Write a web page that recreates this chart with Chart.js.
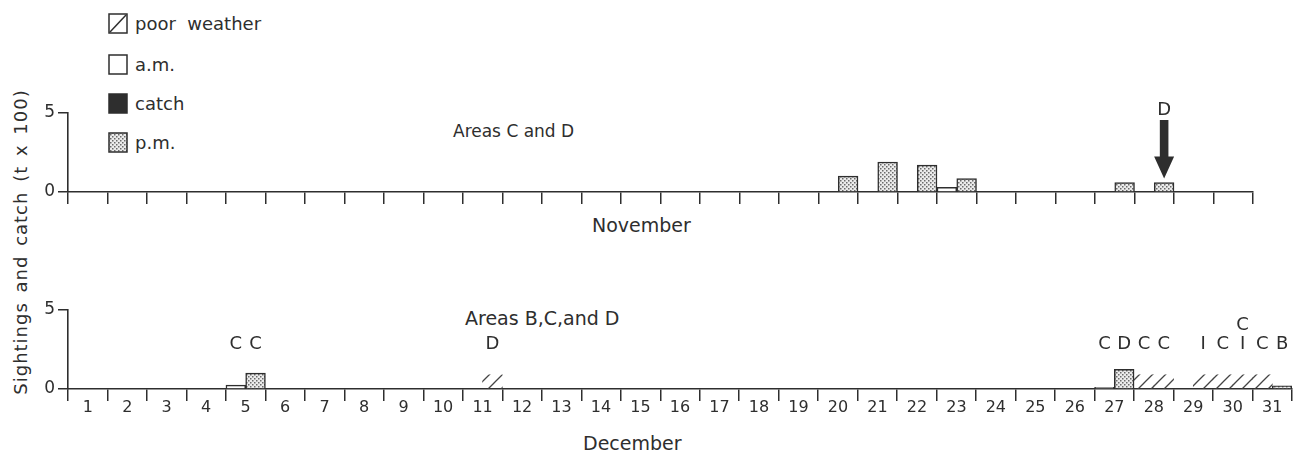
<!DOCTYPE html>
<html>
<head>
<meta charset="utf-8">
<script src="https://cdn.jsdelivr.net/npm/chart.js"></script>
<style>
  body { margin: 0; background: #fff; width: 1304px; height: 452px; overflow: hidden; position: relative;
         font-family: "DejaVu Sans", sans-serif; color: #2e2e2e; }
  .txt { position: absolute; white-space: nowrap; line-height: 1; }
  .lg { position: absolute; left: 135px; font-size: 18px; line-height: 21px; white-space: pre; }
  .sw { position: absolute; left: 108px; }
  canvas.chart { position: absolute; left: 0; }
</style>
</head>
<body>

<canvas class="sw" id="swWeather" width="20" height="21" style="top:13px"></canvas>
<div class="lg" style="top:13px">poor  weather</div>
<canvas class="sw" id="swAm" width="20" height="21" style="top:54px"></canvas>
<div class="lg" style="top:54px">a.m.</div>
<canvas class="sw" id="swCatch" width="20" height="21" style="top:93px"></canvas>
<div class="lg" style="top:93px">catch</div>
<canvas class="sw" id="swPm" width="20" height="21" style="top:132px"></canvas>
<div class="lg" style="top:132px">p.m.</div>

<div class="txt" style="left:453px; top:123px; font-size:17px">Areas C and D</div>
<div class="txt" style="left:465px; top:309px; font-size:19px">Areas B,C,and D</div>
<div class="txt" style="left:592px; top:216px; font-size:19px">November</div>
<div class="txt" style="left:583px; top:434px; font-size:19px">December</div>
<div class="txt" style="left:21px; top:242px; font-size:18px; letter-spacing:1px; word-spacing:3px;
     transform: translate(-50%, -50%) rotate(-90deg)">Sightings and catch (t x 100)</div>

<canvas class="chart" id="nov" width="1304" height="240" style="top:0"></canvas>
<canvas class="chart" id="dec" width="1304" height="212" style="top:240px"></canvas>

<script>
// ---- data (values in t x 100) ----
const novDays = 30;
const decDays = 31;
const yTicks = [0, 5];

const novAm = [[23, 0.3]];
const novPm = [[20, 1.0], [21, 1.9], [22, 1.7], [23, 0.85], [27, 0.6], [28, 0.6]];
const novCatch = [[28, 'pm', 'D']];

const decAm = [[5, 0.25], [27, 0.1]];
const decPm = [[5, 1.0], [27, 1.25], [31, 0.2]];
const decPoorWeather = [[11, 'pm'], [28, 'am'], [28, 'pm'], [29, 'pm'], [30, 'am'], [30, 'pm'], [31, 'am']];
const poorWeatherHeight = 0.9;
const decAreas = [
  [5, 'am', ['C']], [5, 'pm', ['C']], [11, 'pm', ['D']],
  [27, 'am', ['C']], [27, 'pm', ['D']], [28, 'am', ['C']], [28, 'pm', ['C']],
  [29, 'pm', ['I']], [30, 'am', ['C']], [30, 'pm', ['C', 'I']], [31, 'am', ['C']], [31, 'pm', ['B']]
];

const INK = '#2e2e2e';
const FONT = '"DejaVu Sans", sans-serif';

function halfDays(n) {
  const out = [];
  for (let d = 1; d <= n; d++) out.push(d + ' a.m.', d + ' p.m.');
  return out;
}
function slot(day, half) { return (day - 1) * 2 + (half === 'pm' ? 1 : 0); }
function series(n, pairs, half) {
  const a = new Array(n * 2).fill(null);
  pairs.forEach(([d, v]) => { a[slot(d, half)] = v; });
  return a;
}
function weatherSeries(n, list) {
  const a = new Array(n * 2).fill(null);
  list.forEach(([d, h]) => { a[slot(d, h)] = poorWeatherHeight; });
  return a;
}

// ---- fills ----
function stipple() {
  const c = document.createElement('canvas'); c.width = c.height = 4;
  const g = c.getContext('2d');
  g.fillStyle = '#ebebeb'; g.fillRect(0, 0, 4, 4);
  g.fillStyle = '#6b6b6b'; g.fillRect(0, 0, 1.5, 1.5); g.fillRect(2, 2, 1.5, 1.5);
  return g.createPattern(c, 'repeat');
}
function hatch() {
  const s = 13;
  const c = document.createElement('canvas'); c.width = c.height = s;
  const g = c.getContext('2d');
  g.strokeStyle = '#444'; g.lineWidth = 1.3;
  g.beginPath();
  g.moveTo(0, s); g.lineTo(s, 0);
  g.moveTo(-2, 2); g.lineTo(2, -2);
  g.moveTo(s - 2, s + 2); g.lineTo(s + 2, s - 2);
  g.stroke();
  return g.createPattern(c, 'repeat');
}
const PM_FILL = stipple();
const WEATHER_FILL = hatch();

// ---- legend swatches ----
function swatch(id, fill, extra) {
  const c = document.getElementById(id), g = c.getContext('2d');
  const w = c.width, h = c.height;
  g.fillStyle = fill; g.fillRect(1, 1, w - 2, h - 2);
  g.strokeStyle = INK; g.lineWidth = 1.5; g.strokeRect(1, 1, w - 2, h - 2);
  if (extra) extra(g, w, h);
}
swatch('swWeather', '#fff', (g, w, h) => { g.beginPath(); g.moveTo(2, h - 2); g.lineTo(w - 2, 2); g.stroke(); });
swatch('swAm', '#fff');
swatch('swCatch', INK);
swatch('swPm', PM_FILL);

// ---- annotation plugin: catch arrows and area letters ----
const annotPlugin = {
  id: 'annot',
  afterDatasetsDraw(chart, args, o) {
    const { ctx } = chart;
    const xb = chart.scales.xb, y = chart.scales.y;
    ctx.save();
    ctx.fillStyle = INK;
    ctx.font = '18px ' + FONT;
    ctx.textAlign = 'center';
    ctx.textBaseline = 'middle';
    (o.arrows || []).forEach(a => {
      const cx = xb.getPixelForValue(a.slot);
      const top = y.getPixelForValue(a.from);
      const tip = y.getPixelForValue(a.to) - 4;
      const head = 22, hw = 10, sw = 4.3;
      ctx.beginPath();
      ctx.moveTo(cx - sw, top);
      ctx.lineTo(cx + sw, top);
      ctx.lineTo(cx + sw, tip - head);
      ctx.lineTo(cx + hw, tip - head);
      ctx.lineTo(cx, tip);
      ctx.lineTo(cx - hw, tip - head);
      ctx.lineTo(cx - sw, tip - head);
      ctx.closePath();
      ctx.fill();
      ctx.fillText(a.label, cx, y.getPixelForValue(a.labelAt));
    });
    (o.letters || []).forEach(l => {
      const cx = xb.getPixelForValue(l.slot);
      const base = y.getPixelForValue(o.letterLevel);
      const lines = l.text.slice().reverse();
      lines.forEach((t, i) => ctx.fillText(t, cx, base - i * 19));
    });
    ctx.restore();
  }
};

function barSet(data, fill, border) {
  return {
    data, xAxisID: 'xb', yAxisID: 'y', grouped: false,
    backgroundColor: fill, borderColor: INK, borderWidth: border,
    barPercentage: 1, categoryPercentage: 1
  };
}

function makeChart(id, nDays, datasets, o) {
  return new Chart(document.getElementById(id), {
    type: 'bar',
    data: { labels: halfDays(nDays), datasets },
    options: {
      responsive: false, animation: false,
      layout: { padding: { left: 0, right: o.padRight, top: o.padTop, bottom: 0 } },
      plugins: { legend: { display: false }, tooltip: { enabled: false }, annot: o.annot },
      scales: {
        xb: { type: 'category', axis: 'x', display: false, offset: true },
        x: {
          type: 'linear', axis: 'x', position: 'bottom', min: 0, max: nDays, offset: false,
          afterFit: s => { s.height = o.axisH; },
          border: { display: true, color: INK, width: 1.6 },
          grid: {
            drawOnChartArea: false, offset: false, tickLength: 12, lineWidth: 1.5,
            color: c => (c.tick && c.tick.value % 1 === 0) ? INK : 'rgba(0,0,0,0)'
          },
          ticks: {
            display: o.showDays, stepSize: 0.5, autoSkip: false, maxRotation: 0, padding: -3,
            color: INK, font: { family: FONT, size: 16 },
            callback: v => (v % 1 ? String(v + 0.5) : '')
          }
        },
        y: {
          type: 'linear', min: yTicks[0], max: yTicks[yTicks.length - 1],
          afterFit: s => { s.width = 68; },
          afterBuildTicks: s => { s.ticks = yTicks.map(v => ({ value: v })); },
          border: { display: true, color: INK, width: 1.6 },
          grid: { drawOnChartArea: false, tickLength: 10, lineWidth: 1.5, color: INK },
          ticks: { padding: 3, color: INK, font: { family: FONT, size: 17 } }
        }
      }
    },
    plugins: [annotPlugin]
  });
}

makeChart('nov', novDays, [
  barSet(series(novDays, novAm, 'am'), '#fff', 1.5),
  barSet(series(novDays, novPm, 'pm'), PM_FILL, 1.5)
], {
  padTop: 113, padRight: 51, axisH: 48, showDays: false,
  annot: {
    arrows: novCatch.map(([d, h, lab]) => {
      const v = novPm.find(p => p[0] === d);
      return { slot: slot(d, h), from: 4.55, to: v ? v[1] : 0, label: lab, labelAt: 5.2 };
    })
  }
});

makeChart('dec', decDays, [
  barSet(weatherSeries(decDays, decPoorWeather), WEATHER_FILL, 0),
  barSet(series(decDays, decAm, 'am'), '#fff', 1.5),
  barSet(series(decDays, decPm, 'pm'), PM_FILL, 1.5)
], {
  padTop: 70, padRight: 12, axisH: 63, showDays: true,
  annot: {
    letterLevel: 2.85,
    letters: decAreas.map(([d, h, t]) => ({ slot: slot(d, h), text: t }))
  }
});
</script>
</body>
</html>
